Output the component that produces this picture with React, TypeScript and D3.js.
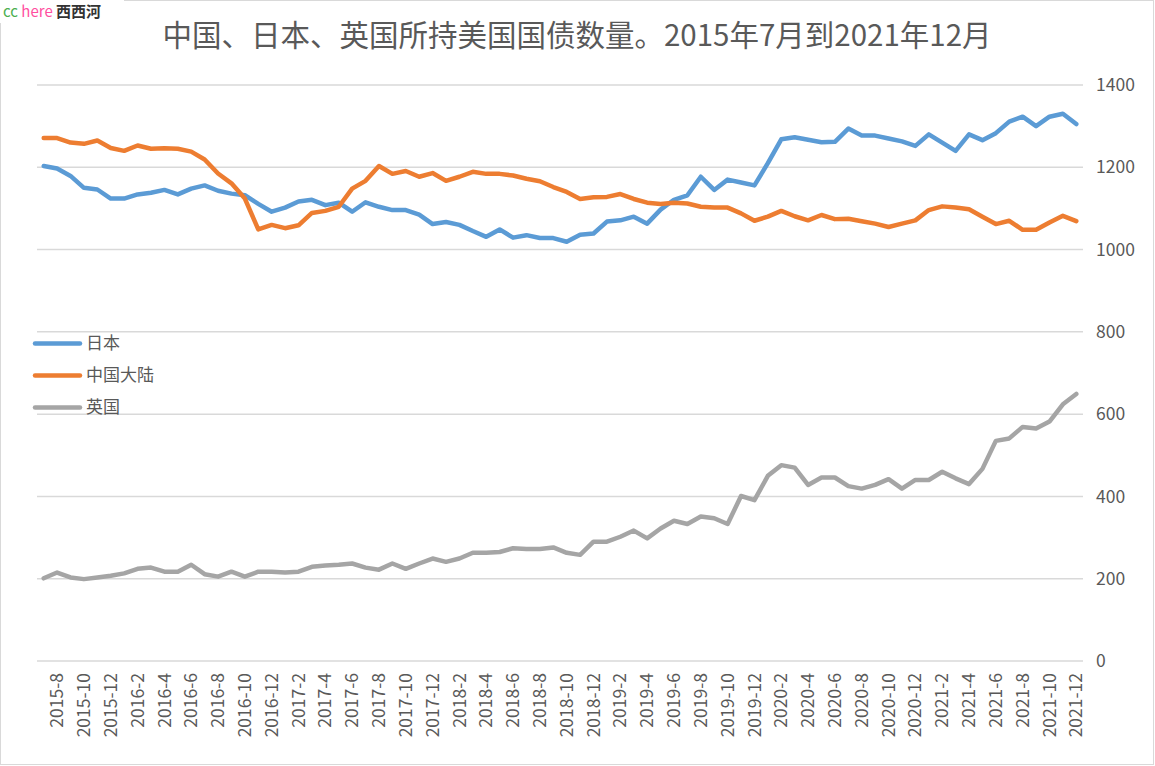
import React, { useRef, useEffect } from "react";
import * as d3 from "d3";

// months from 2015-7 to 2021-12
const months: string[] = [];
for (let y = 2015; y <= 2021; y++) {
  for (let m = 1; m <= 12; m++) {
    if (y === 2015 && m < 7) continue;
    months.push(`${y}-${m}`);
  }
}

const japan = [
  1203, 1197, 1179, 1150, 1146, 1124, 1124, 1134, 1138, 1145,
  1134, 1148, 1156, 1143, 1136, 1132, 1111, 1092, 1102, 1117,
  1121, 1108, 1114, 1092, 1115, 1104, 1096, 1096, 1085, 1062,
  1067, 1060, 1045, 1031, 1049, 1029, 1035, 1028, 1028, 1019,
  1036, 1039, 1068, 1071, 1080, 1063, 1097, 1121, 1132, 1177,
  1145, 1170, 1163, 1156, 1210, 1268, 1273, 1267, 1261, 1262,
  1294, 1277, 1277, 1270, 1263, 1252, 1280, 1260, 1240, 1280,
  1266, 1283, 1311, 1323, 1300, 1323, 1330, 1305,
];

const china = [
  1271, 1271, 1260, 1257, 1265, 1247, 1240, 1253, 1245, 1246,
  1245, 1238, 1219, 1185, 1161, 1124, 1049, 1060, 1052, 1059,
  1089, 1094, 1104, 1148, 1167, 1203, 1184, 1191, 1177, 1186,
  1167, 1177, 1189, 1184, 1184, 1180, 1172, 1166, 1152, 1140,
  1123, 1127, 1128, 1135, 1123, 1114, 1111, 1114, 1112, 1104,
  1102, 1102, 1088, 1070, 1080, 1094, 1081, 1071, 1084, 1074,
  1075, 1069, 1063, 1055, 1063, 1071, 1096, 1105, 1102, 1098,
  1080, 1062, 1070, 1048, 1048, 1066, 1082, 1069,
];

const uk = [
  201, 215, 203, 199, 203, 207, 213, 224, 227, 217,
  217, 234, 211, 205, 217, 205, 217, 217, 215, 217,
  229, 232, 234, 237, 227, 222, 237, 224, 237, 249,
  241, 249, 263, 263, 265, 274, 272, 272, 276, 263,
  258, 290, 290, 302, 317, 298, 322, 341, 333, 351,
  347, 333, 401, 391, 450, 476, 470, 428, 446, 446,
  425, 419, 428, 442, 419, 440, 440, 460, 444, 430,
  467, 535, 541, 569, 565, 582, 624, 649,
];

const seriesNames = ["日本", "中国大陆", "英国"];
const seriesColors = ["#5B9BD5", "#ED7D31", "#A5A5A5"];
const yTicks = [0, 200, 400, 600, 800, 1000, 1200, 1400];

const title = "中国、日本、英国所持美国国债数量。2015年7月到2021年12月";

function Chart({ width = 1155, height = 766 }) {
  const svgRef = useRef<SVGSVGElement>(null);

  useEffect(() => {
    const svg = d3.select(svgRef.current);
    svg.selectAll("*").remove();

    const font = "'Noto Sans CJK SC', 'Noto Sans', sans-serif";
    const textColor = "#595959";

    svg.append("rect")
      .attr("x", 0.5).attr("y", 0.5)
      .attr("width", width - 2).attr("height", height - 2)
      .attr("fill", "#fff")
      .attr("stroke", "#d9d9d9");

    const x = d3.scaleBand<string>()
      .domain(months)
      .range([37, 1083]);

    const y = d3.scaleLinear()
      .domain([0, 1400])
      .range([661, 85]);

    const cx = (d: string) => (x(d) as number) + x.bandwidth() / 2;

    // gridlines
    svg.append("g")
      .selectAll("line")
      .data(yTicks)
      .join("line")
      .attr("x1", 37).attr("x2", 1083)
      .attr("y1", d => y(d)).attr("y2", d => y(d))
      .attr("stroke", "#d9d9d9")
      .attr("stroke-width", 1.5);

    // y labels on the right
    svg.append("g")
      .selectAll("text")
      .data(yTicks)
      .join("text")
      .attr("x", 1096)
      .attr("y", d => y(d))
      .attr("dy", "0.35em")
      .attr("font-family", font)
      .attr("font-size", 17.5)
      .attr("fill", textColor)
      .text(d => d);

    // x labels, every other month
    const labelMonths = months.filter((_, i) => i % 2 === 1);
    svg.append("g")
      .selectAll("text")
      .data(labelMonths)
      .join("text")
      .attr("transform", d => `translate(${cx(d)},673) rotate(-90)`)
      .attr("text-anchor", "end")
      .attr("dy", "0.35em")
      .attr("font-family", font)
      .attr("font-size", 17.5)
      .attr("fill", textColor)
      .text(d => d);

    const line = d3.line<number>()
      .x((_, i) => cx(months[i]))
      .y(d => y(d));

    [japan, china, uk].forEach((data, k) => {
      svg.append("path")
        .datum(data)
        .attr("fill", "none")
        .attr("stroke", seriesColors[k])
        .attr("stroke-width", 4.5)
        .attr("stroke-linejoin", "round")
        .attr("stroke-linecap", "round")
        .attr("d", line);
    });

    // legend
    const legend = svg.append("g")
      .selectAll("g")
      .data(seriesNames)
      .join("g")
      .attr("transform", (_, i) => `translate(35,${343.5 + i * 32})`);
    legend.append("line")
      .attr("x1", 0).attr("x2", 45)
      .attr("stroke", (_, i) => seriesColors[i])
      .attr("stroke-width", 4.5)
      .attr("stroke-linecap", "round");
    legend.append("text")
      .attr("x", 51)
      .attr("dy", "0.35em")
      .attr("font-family", font)
      .attr("font-size", 17)
      .attr("fill", textColor)
      .text(d => d);

    // title
    svg.append("text")
      .attr("x", 577)
      .attr("y", 36)
      .attr("dy", "0.35em")
      .attr("text-anchor", "middle")
      .attr("font-family", font)
      .attr("font-size", 29.5)
      .attr("fill", textColor)
      .text(title);

    // watermark
    svg.append("rect")
      .attr("x", 0).attr("y", 0)
      .attr("width", 124).attr("height", 23)
      .attr("fill", "#fff");
    const wm = svg.append("text")
      .attr("x", 3)
      .attr("y", 12)
      .attr("dy", "0.35em")
      .attr("font-family", font)
      .attr("font-size", 15);
    wm.append("tspan").attr("fill", "#4caf50").text("cc ");
    wm.append("tspan").attr("fill", "#ff4fa0").text("here ");
    wm.append("tspan").attr("fill", "#333").attr("font-weight", "bold").text("西西河");
  }, [width, height]);

  return (
    <svg
      ref={svgRef}
      width={width}
      height={height}
      style={{ position: "absolute", left: 0, top: 0 }}
    ></svg>
  );
}

export default function App() {
  return <Chart />;
}
